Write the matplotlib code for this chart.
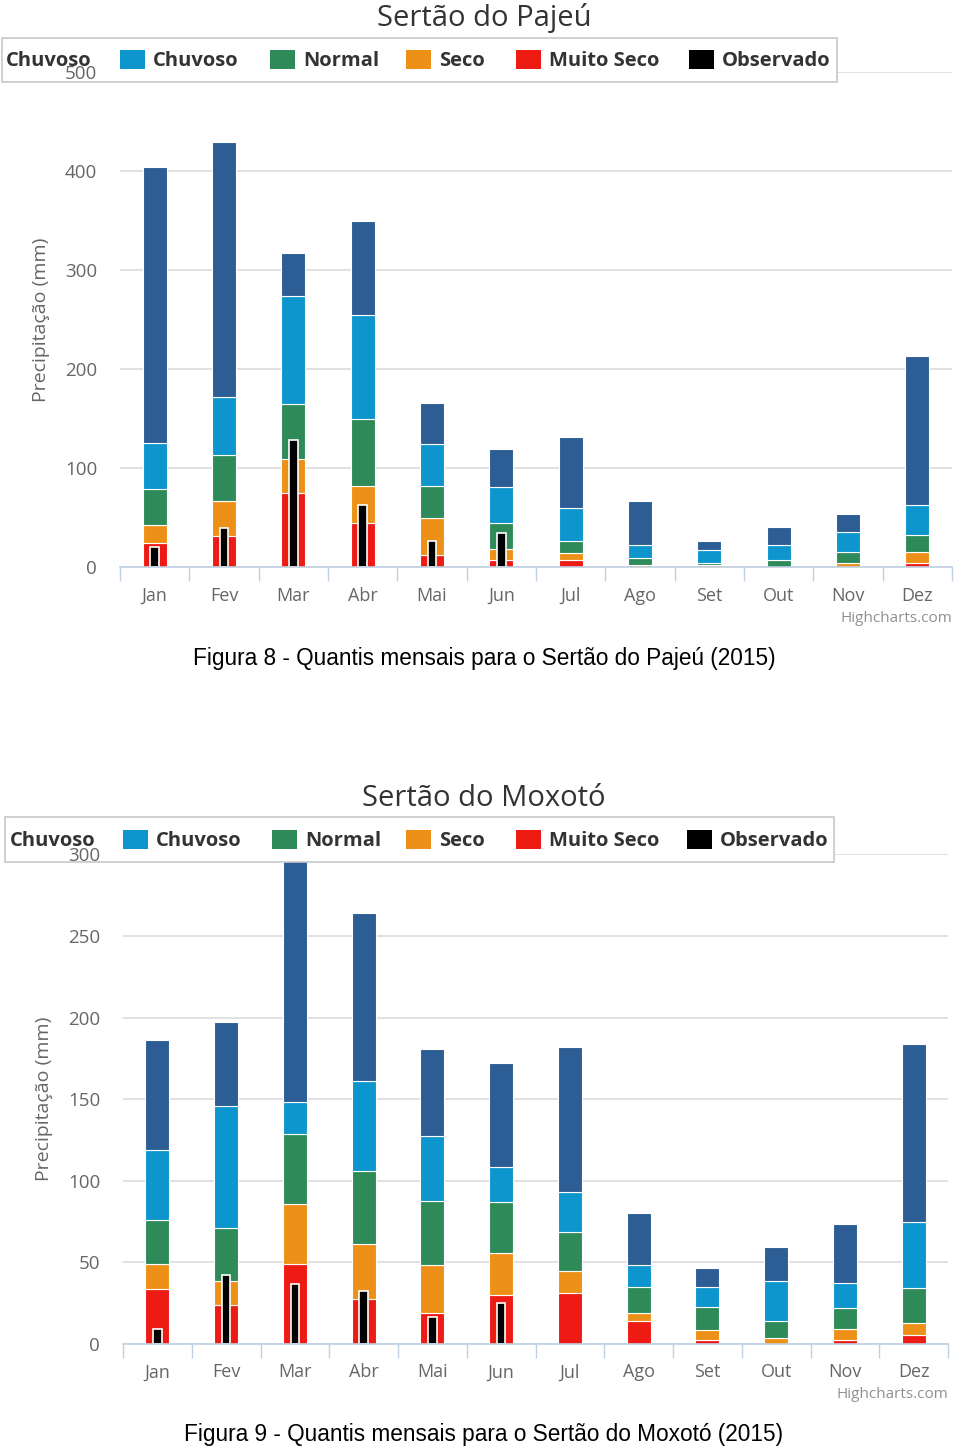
import numpy as np
import matplotlib
matplotlib.use('Agg')
import matplotlib.pyplot as plt
from matplotlib.patches import Rectangle

nan = np.nan

meses = ['Jan', 'Fev', 'Mar', 'Abr', 'Mai', 'Jun', 'Jul', 'Ago', 'Set', 'Out', 'Nov', 'Dez']

# Sertao do Pajeu - limite superior (acumulado) de cada faixa, em mm
pajeu_muito_seco = [24.5, 31.6, 75.5, 44.8, 12.4, 7.8, 7.8, 0.4, 0.3, 0.2, 0.5, 4.0]
pajeu_seco = [43.0, 66.7, 109.0, 82.0, 50.0, 18.0, 14.5, 2.8, 2.3, 0.8, 4.0, 15.8]
pajeu_normal = [78.8, 113.0, 165.0, 150.0, 82.6, 44.8, 26.6, 9.5, 4.7, 7.3, 15.8, 32.6]
pajeu_chuvoso = [126.0, 172.0, 274.0, 254.5, 125.0, 80.8, 60.0, 22.2, 17.5, 22.5, 35.6, 63.0]
pajeu_muito_chuvoso = [404.0, 430.0, 317.0, 349.5, 166.0, 119.0, 131.6, 66.7, 26.5, 40.7, 54.0, 213.0]
pajeu_observado = [20.5, 39.7, 129.0, 62.6, 26.6, 34.7, nan, nan, nan, nan, nan, nan]

# Sertao do Moxoto
moxoto_muito_seco = [33.7, 23.9, 49.2, 27.3, 19.2, 30.0, 31.0, 14.3, 2.5, 0.3, 2.5, 5.3]
moxoto_seco = [49.2, 38.8, 85.8, 61.0, 48.3, 55.6, 45.0, 19.0, 8.6, 3.5, 9.0, 13.0]
moxoto_normal = [75.7, 71.0, 128.7, 106.0, 87.5, 86.8, 68.4, 34.9, 22.7, 14.3, 22.0, 34.5]
moxoto_chuvoso = [118.6, 146.0, 148.0, 161.0, 127.5, 108.6, 93.4, 48.6, 34.9, 38.9, 37.5, 74.8]
moxoto_muito_chuvoso = [186.5, 197.5, 296.0, 264.0, 181.0, 172.3, 182.0, 80.0, 46.7, 59.7, 73.5, 184.0]
moxoto_observado = [9.2, 42.5, 36.5, 32.7, 16.4, 25.0, nan, nan, nan, nan, nan, nan]

legenda_nomes = ['Chuvoso', 'Normal', 'Seco', 'Muito Seco', 'Observado']

# cores das faixas, de baixo para cima
cor_muito_seco = '#ee1a14'
cor_seco = '#ec9018'
cor_normal = '#2e8a58'
cor_chuvoso = '#0c96cd'
cor_muito_chuvoso = '#2c5d95'
cor_observado = '#000000'
cores_legenda = [cor_chuvoso, cor_normal, cor_seco, cor_muito_seco, cor_observado]

W, H = 960, 1451
FONTE = ['Open Sans', 'DejaVu Sans']
plt.rcParams['font.family'] = FONTE

fig = plt.figure(figsize=(W / 100, H / 100), dpi=100)


def fx(x):
    return x / W


def fy(y):
    return 1 - y / H


def desenha_grafico(caixa, titulo, faixas, observado, ymax, ystep,
                    caixa_legenda, itens_x, primeiro_x, titulo_y, ylabel_x,
                    credito_xy, legenda_texto, legenda_y):
    esq, topo, dir_, base = caixa
    ax = fig.add_axes([fx(esq), fy(base), fx(dir_) - fx(esq), fy(topo) - fy(base)])
    ax.patch.set_alpha(0)

    x = np.arange(len(meses))
    cores = [cor_muito_seco, cor_seco, cor_normal, cor_chuvoso, cor_muito_chuvoso]
    baixo = np.zeros(len(meses))
    for topo_faixa, cor in zip(faixas, cores):
        topo_faixa = np.array(topo_faixa)
        ax.bar(x, topo_faixa - baixo, bottom=baixo, width=0.35, color=cor,
               edgecolor='white', linewidth=0.8, zorder=2)
        baixo = topo_faixa

    # barra fina do valor observado
    ax.bar(x, observado, width=0.125, color=cor_observado, edgecolor='white',
           linewidth=1.2, zorder=3)

    ax.set_xlim(-0.5, len(meses) - 0.5)
    ax.set_ylim(0, ymax)
    yticks = np.arange(0, ymax + 1, ystep)
    ax.set_yticks(yticks)
    ax.set_yticklabels([])
    ax.tick_params(axis='y', length=0)
    ax.yaxis.grid(True, color='#d8d8d8', linewidth=1.1, zorder=0)
    ax.set_axisbelow(True)

    ax.set_xticks(x)
    ax.set_xticklabels(meses, fontsize=13, color='#666666')
    ax.set_xticks(np.arange(-0.5, len(meses)), minor=True)
    ax.tick_params(axis='x', which='major', length=0, pad=14)
    ax.tick_params(axis='x', which='minor', length=10, width=1, color='#c0d0e0',
                   direction='out')

    for lado in ['top', 'right', 'left']:
        ax.spines[lado].set_visible(False)
    ax.spines['bottom'].set_color('#c0d0e0')
    ax.spines['bottom'].set_linewidth(1.2)
    ax.spines['bottom'].set_zorder(4)

    # legenda (caixa branca sobre o grafico, cortada na esquerda)
    lx0, ly0, lx1, ly1 = caixa_legenda
    ax.add_patch(Rectangle((fx(lx0), fy(ly1)), fx(lx1) - fx(lx0), fy(ly0) - fy(ly1),
                           transform=fig.transFigure, facecolor='white',
                           edgecolor='#c8c8c8', linewidth=1.2, clip_on=False, zorder=6))
    ax.text(fx(primeiro_x), fy(legenda_y + 2), 'Chuvoso', transform=fig.transFigure,
            fontsize=legenda_texto, fontweight='bold', color='#333333',
            ha='left', va='center', zorder=7)
    for nome, cor, sx in zip(legenda_nomes, cores_legenda, itens_x):
        ax.add_patch(Rectangle((fx(sx), fy(legenda_y + 9.5)), fx(25), 19 / H,
                               transform=fig.transFigure, facecolor=cor,
                               edgecolor='none', clip_on=False, zorder=7))
        ax.text(fx(sx + 33), fy(legenda_y + 2), nome, transform=fig.transFigure,
                fontsize=legenda_texto, fontweight='bold', color='#333333',
                ha='left', va='center', zorder=7)

    # rotulos do eixo y desenhados por cima da legenda
    for v in yticks:
        ax.annotate(f'{v:g}', xy=(0, v), xycoords=('axes fraction', 'data'),
                    xytext=(-16.5, -1.5), textcoords='offset points', ha='right',
                    va='center', fontsize=13.5, color='#666666', zorder=8,
                    annotation_clip=False)

    fig.text(fx(484), fy(titulo_y), titulo, fontsize=21, color='#333333',
             ha='center', va='center')
    fig.text(fx(ylabel_x), (fy(topo) + fy(base)) / 2, 'Precipitação (mm)',
             rotation=90, fontsize=14, color='#666666', ha='center', va='center')
    fig.text(fx(credito_xy[0]), fy(credito_xy[1]), 'Highcharts.com', fontsize=11,
             color='#909090', ha='right', va='center')
    return ax


desenha_grafico((120, 72.3, 952, 567.3), 'Sertão do Pajeú',
                [pajeu_muito_seco, pajeu_seco, pajeu_normal, pajeu_chuvoso,
                 pajeu_muito_chuvoso],
                pajeu_observado, 500, 100,
                (2, 38, 837, 82), [120, 270, 406, 516, 689], 6, 18, 41,
                (952, 618), 14.5, 59)

desenha_grafico((123, 854.4, 948, 1344), 'Sertão do Moxotó',
                [moxoto_muito_seco, moxoto_seco, moxoto_normal, moxoto_chuvoso,
                 moxoto_muito_chuvoso],
                moxoto_observado, 300, 50,
                (5, 817, 834, 862), [123, 272, 406, 516, 687], 10, 798, 44,
                (948, 1395), 14.5, 839)

# legendas das figuras
fig.text(fx(484), fy(658), 'Figura 8 - Quantis mensais para o Sertão do Pajeú (2015)',
         fontsize=16.3, family=['Liberation Sans', 'DejaVu Sans'], color='black',
         ha='center', va='center')
fig.text(fx(484), fy(1435), 'Figura 9 - Quantis mensais para o Sertão do Moxotó (2015)',
         fontsize=16.3, family=['Liberation Sans', 'DejaVu Sans'], color='black',
         ha='center', va='center')

fig.savefig('out.png', dpi=100, facecolor='white')
